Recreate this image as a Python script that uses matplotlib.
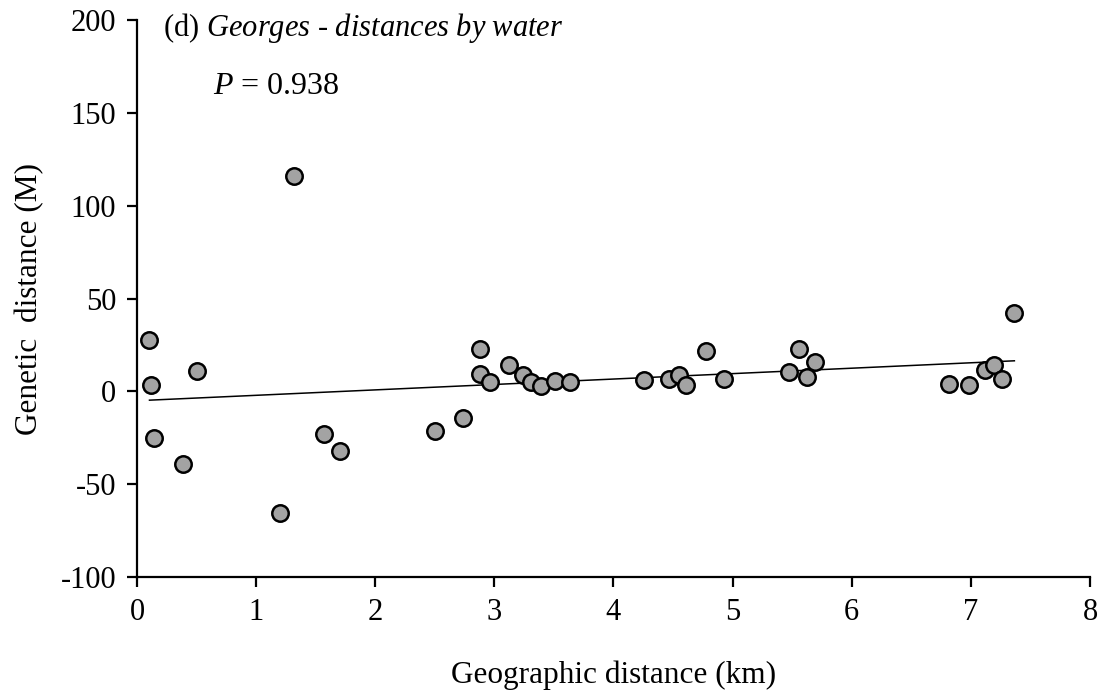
import matplotlib.pyplot as plt

plt.rcParams['font.family'] = ['Liberation Serif', 'DejaVu Serif']
plt.rcParams['mathtext.fontset'] = 'custom'
plt.rcParams['mathtext.rm'] = 'Liberation Serif'
plt.rcParams['mathtext.it'] = 'Liberation Serif:italic'
plt.rcParams['axes.unicode_minus'] = False

# distancia geografica (km) y distancia genetica (M)
geo_km = [0.105, 0.12, 0.144, 0.39, 0.50, 1.197, 1.316, 1.57, 1.705, 2.50,
          2.74, 2.88, 2.88, 2.96, 3.126, 3.24, 3.31, 3.39, 3.51, 3.634,
          4.256, 4.464, 4.546, 4.607, 4.775, 4.93, 5.477, 5.553, 5.623, 5.69,
          6.82, 6.986, 7.118, 7.194, 7.258, 7.365]
gen_m = [27.7, 3.3, -25.3, -38.9, 10.8, -65.6, 116.2, -22.8, -32.0, -21.2,
         -14.3, 22.6, 9.4, 5.1, 14.5, 8.7, 4.9, 3.1, 5.8, 5.1,
         6.0, 6.7, 9.0, 3.3, 21.9, 6.7, 10.3, 22.6, 7.6, 16.1,
         4.2, 3.4, 11.8, 14.5, 6.7, 42.0]

# recta de tendencia
trend_x = [0.105, 7.365]
trend_y = [-4.7, 16.5]

x_ticks = [0, 1, 2, 3, 4, 5, 6, 7, 8]
y_ticks = [-100, -50, 0, 50, 100, 150, 200]

fig = plt.figure(figsize=(11.1, 6.92), dpi=100)
ax = fig.add_axes([0.1234, 0.166, 0.8586, 0.805])

ax.plot(trend_x, trend_y, color='black', linewidth=1.1, zorder=2)
ax.scatter(geo_km, gen_m, s=140, facecolor='#a3a3a3', edgecolor='black',
           linewidth=1.8, zorder=3)

ax.set_xlim(0, 8)
ax.set_ylim(-100, 200)
ax.set_xticks(x_ticks)
ax.set_yticks(y_ticks)

for lado in ['top', 'right']:
    ax.spines[lado].set_visible(False)
for lado in ['left', 'bottom']:
    ax.spines[lado].set_linewidth(1.6)

ax.tick_params(direction='out', length=7, width=1.6, labelsize=22, pad=8)

ax.set_xlabel('Geographic distance (km)', fontsize=22.5, labelpad=24)
ax.set_ylabel('Genetic  distance (M)', fontsize=22.5, labelpad=12)

ax.text(0.22, 195.5, r'(d) $\mathit{Georges}$ - $\mathit{distances\ by\ water}$',
        fontsize=22, va='center', ha='left')
ax.text(0.64, 164, r'$\mathit{P}$ = 0.938', fontsize=23, va='center', ha='left')

plt.savefig('out.png', dpi=100)
plt.close()
